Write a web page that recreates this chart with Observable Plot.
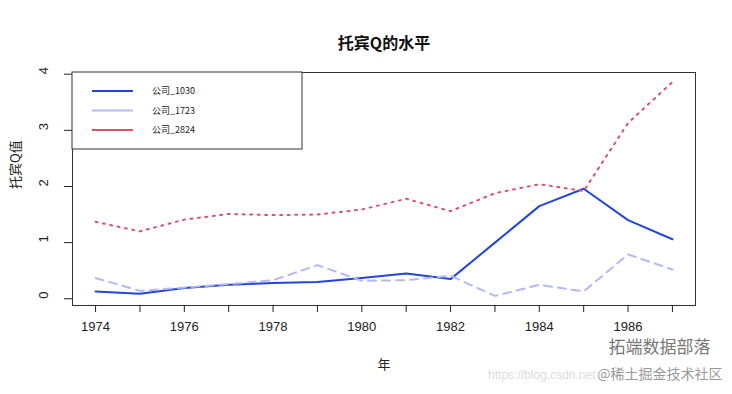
<!DOCTYPE html>
<html>
<head>
<meta charset="utf-8">
<script src="https://cdn.jsdelivr.net/npm/d3@7"></script>
<script src="https://cdn.jsdelivr.net/npm/@observablehq/plot@0.6"></script>
<style>
  html, body { margin: 0; padding: 0; background: #fff; }
</style>
</head>
<body>
<div id="chart"></div>
<script>
const years = [1974,1975,1976,1977,1978,1979,1980,1981,1982,1983,1984,1985,1986,1987];
const seriesNames = ["公司_1030", "公司_1723", "公司_2824"];
const q1030 = [0.13,0.09,0.19,0.25,0.28,0.30,0.37,0.45,0.35,1.00,1.65,1.96,1.40,1.06];
const q1723 = [0.37,0.14,0.20,0.26,0.33,0.60,0.32,0.33,0.41,0.05,0.25,0.13,0.79,0.52];
const q2824 = [1.37,1.20,1.41,1.51,1.49,1.50,1.59,1.78,1.56,1.88,2.04,1.92,3.13,3.86];
const yTicks = [0,1,2,3,4];
const colors = ["#2446d6", "#b3b9f7", "#d6546e"];
const dashes = [null, "8,6", "2,5.5"];

const allSeries = [q1030, q1723, q2824];
const data = allSeries.flatMap((vals, i) => years.map((yr, j) => ({year: yr, q: vals[j], s: seriesNames[i]})));

const cjk = "'Noto Sans CJK SC', 'Liberation Sans', sans-serif";

const marks = [
  Plot.frame({stroke: "#333", strokeWidth: 1}),
  Plot.axisX({ticks: years, tickSize: 7, tickPadding: 9, tickFormat: d => d % 2 === 0 ? String(d) : "", label: null, fontSize: 13}),
  Plot.axisY({ticks: yTicks, tickSize: 8, tickFormat: () => "", label: null}),
  Plot.text(yTicks, {y: d => d, frameAnchor: "left", dx: -29, rotate: -90, text: d => String(d), fontSize: 13, fill: "#222"}),
  ...seriesNames.map((name, i) => Plot.line(data.filter(d => d.s === name), {
    x: "year", y: "q", stroke: colors[i], strokeWidth: 2, strokeDasharray: dashes[i] || undefined
  })),
  Plot.text(["托宾Q的水平"], {frameAnchor: "top", dy: -35, fontSize: 16, fontWeight: "bold", fontFamily: cjk, fill: "#111"}),
  Plot.text(["托宾Q值"], {frameAnchor: "left", dx: -57, rotate: -90, fontSize: 13, fontFamily: cjk, fill: "#222"}),
  Plot.text(["年"], {frameAnchor: "bottom", dy: 63, fontSize: 13, fontFamily: cjk, fill: "#222"}),
  Plot.text(["拓端数据部落"], {frameAnchor: "bottom-right", dx: 15, dy: 47, textAnchor: "end", fontSize: 17, fontFamily: cjk, fill: "#777"}),
  Plot.text(["@稀土掘金技术社区"], {frameAnchor: "bottom-right", dx: 27, dy: 73, textAnchor: "end", fontSize: 14, fontFamily: cjk, fill: "#999"}),
  Plot.text(["https://blog.csdn.net"], {frameAnchor: "bottom-right", dx: -100, dy: 73, textAnchor: "end", fontSize: 12, fill: "#dcdcdc"})
];

const chart = Plot.plot({
  width: 732,
  height: 394,
  marginLeft: 72,
  marginRight: 37,
  marginTop: 72,
  marginBottom: 89,
  style: {fontFamily: "'Liberation Sans', Arial, sans-serif", fontSize: "13px", background: "#fff", color: "#222"},
  x: {domain: [1973.48, 1987.52], label: null},
  y: {domain: [-0.12, 4.03], label: null},
  marks
});
document.getElementById("chart").appendChild(chart);

// legend box (top-left inside the frame)
const svg = d3.select(chart);
const lg = svg.append("g").attr("class", "legend");
lg.append("rect").attr("x", 72).attr("y", 72).attr("width", 230).attr("height", 77)
  .attr("fill", "#fff").attr("stroke", "#333").attr("stroke-width", 1);
seriesNames.forEach((name, i) => {
  const yy = 91 + i * 19.5;
  lg.append("line").attr("x1", 92).attr("x2", 133).attr("y1", yy).attr("y2", yy)
    .attr("stroke", colors[i]).attr("stroke-width", 2);
  lg.append("text").attr("x", 152).attr("y", yy).attr("dy", "0.35em")
    .attr("text-anchor", "start")
    .attr("font-size", 9).attr("font-family", cjk).attr("fill", "#222").text(name);
});
</script>
</body>
</html>
